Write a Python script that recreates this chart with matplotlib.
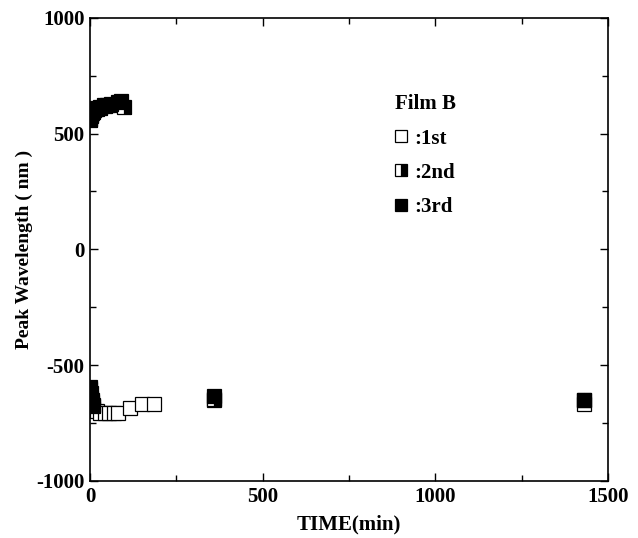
import matplotlib
matplotlib.use('Agg')
import matplotlib.pyplot as plt
from matplotlib.ticker import MultipleLocator

plt.rcParams['font.family'] = ['Liberation Serif', 'DejaVu Serif']
plt.rcParams['font.weight'] = 'bold'
plt.rcParams['axes.unicode_minus'] = False

# Film B, three runs: time (min) and peak wavelength (nm)
t_1st = [0, 5, 10, 20, 30, 45, 55, 70, 80, 115, 150, 185, 360, 1430]
w_1st = [-660, -680, -690, -700, -705, -705, -705, -705, -706, -686, -668, -668, -650, -668]

t_2nd = [0, 3, 8, 12, 20, 30, 45, 60, 100,
         0, 3, 6, 10, 360, 1430]
w_2nd = [560, 580, 592, 600, 608, 612, 620, 625, 615,
         -605, -640, -660, -675, -645, -652]

t_3rd = [0, 2, 5, 10, 15, 20, 30, 40, 50, 60, 80, 90,
         0, 2, 5, 8, 360, 1430]
w_3rd = [565, 575, 590, 598, 605, 610, 615, 622, 625, 628, 635, 640,
         -595, -620, -650, -670, -635, -650]

labels = [':1st', ':2nd', ':3rd']

fig = plt.figure(figsize=(6.38, 5.38), dpi=100)
ax = fig.add_axes([0.141, 0.106, 0.812, 0.861])

ms = 10.5
l1, = ax.plot(t_1st, w_1st, 's', ms=ms, mfc='white', mec='black', mew=0.9, label=labels[0])
l2, = ax.plot(t_2nd, w_2nd, 's', ms=ms, fillstyle='right', mfc='black',
              mfcalt='white', mec='black', mew=0.9, label=labels[1])
l3, = ax.plot(t_3rd, w_3rd, 's', ms=ms, mfc='black', mec='black', mew=0.9, label=labels[2])

ax.set_xlim(0, 1500)
ax.set_ylim(-1000, 1000)
ax.xaxis.set_major_locator(MultipleLocator(500))
ax.xaxis.set_minor_locator(MultipleLocator(250))
ax.yaxis.set_major_locator(MultipleLocator(500))
ax.yaxis.set_minor_locator(MultipleLocator(250))
ax.tick_params(which='both', direction='in', top=True, right=True, width=1, labelsize=15)
ax.tick_params(which='major', length=6, pad=4)
ax.tick_params(which='minor', length=4)
for s in ax.spines.values():
    s.set_linewidth(1.2)

ax.set_xlabel('TIME(min)', fontsize=15, fontweight='bold', labelpad=6)
ax.set_ylabel('Peak Wavelength ( nm )', fontsize=14, fontweight='bold', labelpad=2)

leg = ax.legend(handles=[l1, l2, l3], title='Film B', loc='upper left',
                bbox_to_anchor=(0.553, 0.875), frameon=False, fontsize=15,
                title_fontproperties={'weight': 'bold', 'size': 15},
                markerscale=0.85, handlelength=0.6, handletextpad=0.3,
                labelspacing=0.68, alignment='left')

fig.savefig('out.png', dpi=100)
